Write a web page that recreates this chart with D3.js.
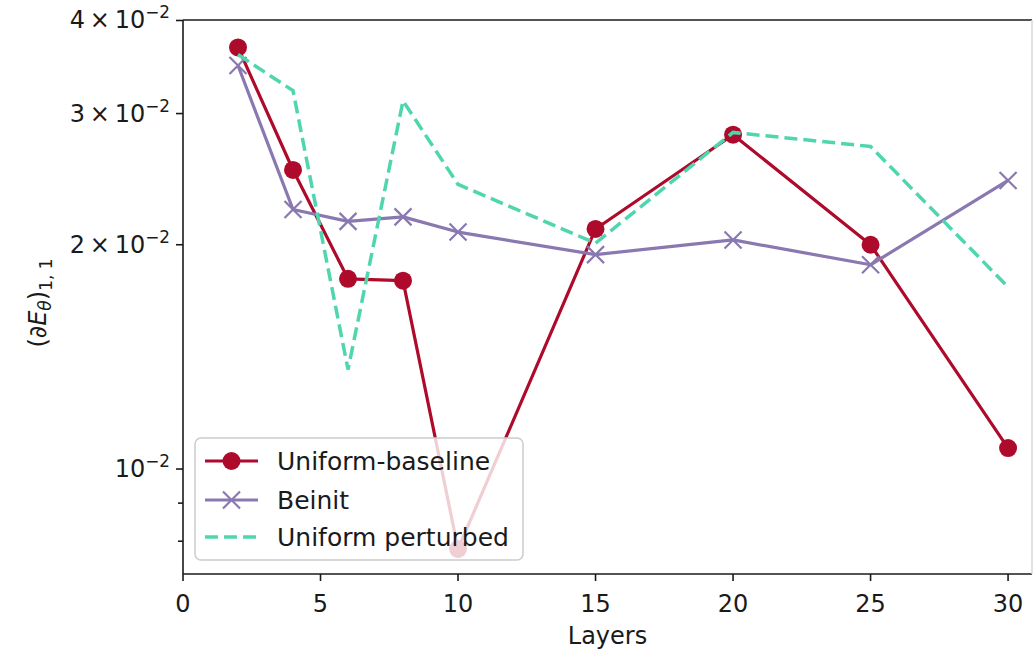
<!DOCTYPE html>
<html>
<head>
<meta charset="utf-8">
<script src="https://cdn.jsdelivr.net/npm/d3@7"></script>
<style>
  html, body { margin: 0; padding: 0; background: #fff; }
  svg { display: block; }
  text { font-family: "DejaVu Sans", sans-serif; fill: #1a1a1a; }
</style>
</head>
<body>
<svg id="chart" width="1034" height="651"></svg>
<script>
// ---- data ----
const layers = [2, 4, 6, 8, 10, 15, 20, 25, 30];
const uniformBaseline = [0.0368, 0.0252, 0.0180, 0.0179, 0.00781, 0.0210, 0.0281, 0.0200, 0.01067];
const beinit = [0.0348, 0.0223, 0.0215, 0.0218, 0.0208, 0.0194, 0.0203, 0.0188, 0.0244];
const uniformPerturbed = [0.0360, 0.0322, 0.0136, 0.0312, 0.0241, 0.0201, 0.0283, 0.0271, 0.01755];
const xTicks = [0, 5, 10, 15, 20, 25, 30];
const yLabeledTicks = [0.01, 0.02, 0.03, 0.04];
const yLabelMant = ["", "2", "3", "4"];
const yMinorTicks = [0.008, 0.009];
const seriesNames = ["Uniform-baseline", "Beinit", "Uniform perturbed"];
const colors = ["#ae0b2c", "#8a78b0", "#4fd6ae"];

// ---- layout ----
const svg = d3.select("#chart");
const L = 183, R = 1032, T = 20, B = 574;
const FS = 24;
const DASH = "13,6";

const x = d3.scaleLinear().domain([0, 30.87]).range([L, R]);
const y = d3.scaleLog().domain([Math.pow(10, -2.1409), Math.pow(10, -1.3973)]).range([B, T]);

// lines
const lineGen = d3.line().x((d, i) => x(layers[i])).y(d => y(d));
const plot = svg.append("g");

plot.append("path").datum(uniformBaseline).attr("d", lineGen)
  .attr("fill", "none").attr("stroke", colors[0]).attr("stroke-width", 3.2).attr("stroke-linejoin", "round");
plot.selectAll(".dot").data(uniformBaseline).enter().append("circle")
  .attr("cx", (d, i) => x(layers[i])).attr("cy", d => y(d)).attr("r", 9).attr("fill", colors[0]);

plot.append("path").datum(beinit).attr("d", lineGen)
  .attr("fill", "none").attr("stroke", colors[1]).attr("stroke-width", 3.2).attr("stroke-linejoin", "round");
const xm = 8.5;
plot.selectAll(".xm").data(beinit).enter().append("path")
  .attr("d", (d, i) => {
    const cx = x(layers[i]), cy = y(d);
    return `M${cx - xm},${cy - xm}L${cx + xm},${cy + xm}M${cx - xm},${cy + xm}L${cx + xm},${cy - xm}`;
  })
  .attr("stroke", colors[1]).attr("stroke-width", 2.2).attr("fill", "none");

plot.append("path").datum(uniformPerturbed).attr("d", lineGen)
  .attr("fill", "none").attr("stroke", colors[2]).attr("stroke-width", 3.5)
  .attr("stroke-dasharray", DASH);

// axes spines
const ax = svg.append("g").attr("stroke", "#1a1a1a").attr("stroke-width", 1.6);
ax.append("line").attr("x1", L).attr("x2", L).attr("y1", T).attr("y2", B);
ax.append("line").attr("x1", L).attr("x2", R).attr("y1", B).attr("y2", B);
ax.append("line").attr("x1", L).attr("x2", R).attr("y1", T).attr("y2", T);
svg.append("line").attr("x1", R).attr("x2", R).attr("y1", T).attr("y2", B)
  .attr("stroke", "#d8d8d8").attr("stroke-width", 1.5);

// x ticks
xTicks.forEach(t => {
  ax.append("line").attr("x1", x(t)).attr("x2", x(t)).attr("y1", B).attr("y2", B + 7);
  svg.append("text").attr("x", x(t)).attr("y", B + 38).attr("text-anchor", "middle")
    .attr("font-size", FS).text(t);
});
svg.append("text").attr("x", (L + R) / 2).attr("y", 644).attr("text-anchor", "middle")
  .attr("font-size", FS).text("Layers");

// y ticks
yLabeledTicks.forEach((t, i) => {
  const yy = y(t);
  ax.append("line").attr("x1", L - 7).attr("x2", L).attr("y1", yy).attr("y2", yy);
  const tx = svg.append("text").attr("x", L - 13).attr("y", yy + 8).attr("text-anchor", "end")
    .attr("font-size", FS);
  const m = yLabelMant[i];
  tx.append("tspan").text(m ? m + "\u2009\u00d7\u200910" : "10");
  tx.append("tspan").attr("font-size", FS * 0.7).attr("dy", -10).text("\u22122");
});
yMinorTicks.forEach(t => {
  ax.append("line").attr("x1", L - 5).attr("x2", L).attr("y1", y(t)).attr("y2", y(t));
});

// y label
const yl = svg.append("text").attr("transform", `translate(46,${(T + B) / 2 + 6}) rotate(-90)`)
  .attr("text-anchor", "middle").attr("font-size", 24);
yl.append("tspan").text("(\u2202");
yl.append("tspan").attr("font-style", "italic").text("E");
yl.append("tspan").attr("font-style", "italic").attr("font-size", 17).attr("dy", 5).text("\u03b8");
yl.append("tspan").attr("dy", -5).text(")");
yl.append("tspan").attr("font-size", 17).attr("dy", 6).text("1, 1");

// legend
const lg = svg.append("g");
lg.append("rect").attr("x", 195).attr("y", 438).attr("width", 328).attr("height", 122)
  .attr("rx", 6).attr("fill", "#fff").attr("fill-opacity", 0.8)
  .attr("stroke", "#cccccc").attr("stroke-width", 1.5);
const rowsY = [461, 500, 537];
seriesNames.forEach((name, i) => {
  const ry = rowsY[i];
  const ln = lg.append("line").attr("x1", 205).attr("x2", 258).attr("y1", ry).attr("y2", ry)
    .attr("stroke", colors[i]).attr("stroke-width", i === 2 ? 3.5 : 3.2);
  if (i === 2) ln.attr("stroke-dasharray", DASH);
  if (i === 0) lg.append("circle").attr("cx", 231.5).attr("cy", ry).attr("r", 9).attr("fill", colors[0]);
  if (i === 1) lg.append("path")
    .attr("d", `M${231.5 - xm},${ry - xm}L${231.5 + xm},${ry + xm}M${231.5 - xm},${ry + xm}L${231.5 + xm},${ry - xm}`)
    .attr("stroke", colors[1]).attr("stroke-width", 2.2);
  lg.append("text").attr("x", 277).attr("y", ry + 9).attr("font-size", 25).text(name);
});
</script>
</body>
</html>
